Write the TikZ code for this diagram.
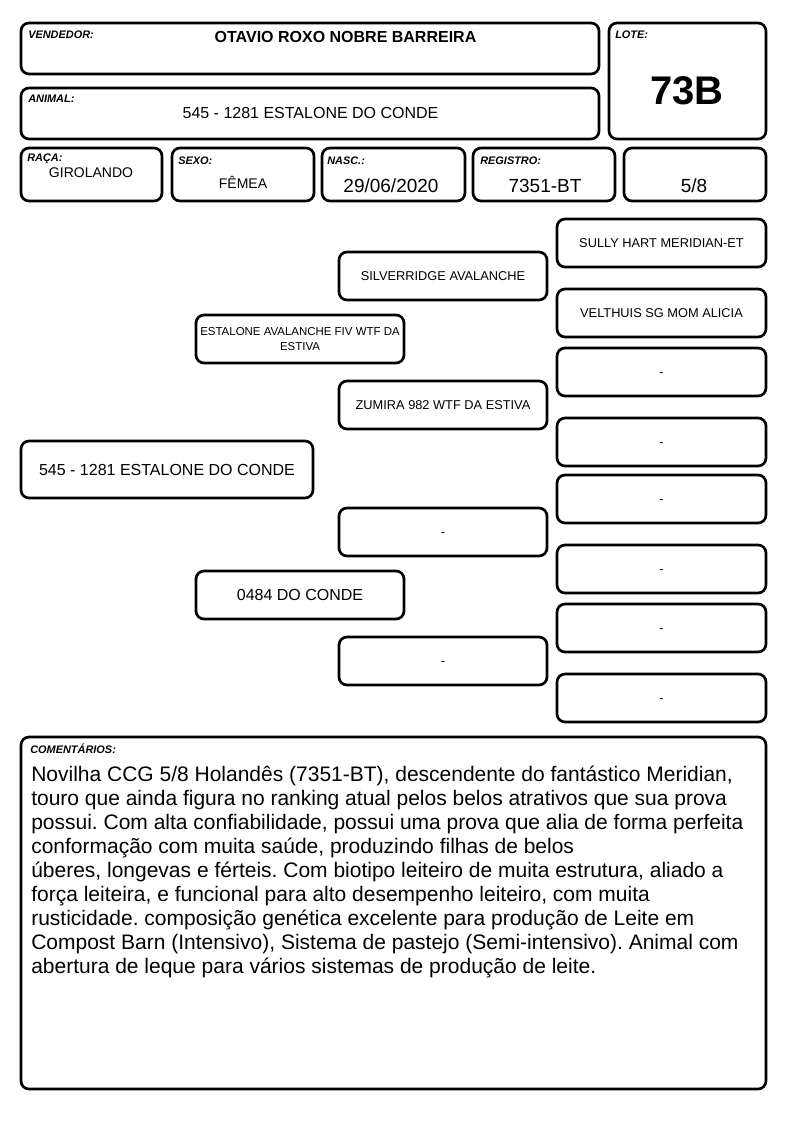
\documentclass[tikz,border=0pt]{standalone}
\usepackage{fontspec}
\setmainfont{Liberation Sans}
\frenchspacing
\tikzset{
  box/.style={draw, line width=2pt, rounded corners=6pt, inner sep=0pt},
  sz/.style args={#1x#2}{minimum width=#1*0.75pt, minimum height=#2*0.75pt},
  lbl/.style={anchor=base west, inner sep=0pt, font=\fontsize{8.2}{9}\selectfont\bfseries\itshape},
  val/.style={anchor=base, inner sep=0pt},
  ped/.style={box, sz=208x48, align=center, font=\fontsize{9.6}{11}\selectfont},
  vazio/.style={text height=7pt, text depth=0pt}
}

\begin{document}
\begin{tikzpicture}[x=0.75pt,y=-0.75pt]
\useasboundingbox (0,0) rectangle (794,1123);

% header
\node[box, sz=578x51] (vendedor) at (310,48.5) {};
\node[box, sz=157x116] (lote) at (687.5,81) {};
\node[box, sz=578x51] (animal) at (310,113.5) {};
\node[box, sz=141x53] (raca) at (91.5,174.5) {};
\node[box, sz=142x53] (sexo) at (243,174.5) {};
\node[box, sz=143x53] (nasc) at (393.5,174.5) {};
\node[box, sz=142x53] (registro) at (544,174.5) {};
\node[box, sz=142x53] (grau) at (695,174.5) {};

\node[lbl] (vendedorlbl) at (28,39) {VENDEDOR:};
\node[lbl] (lotelbl) at (615,39) {LOTE:};
\node[lbl] (animallbl) at (28,103) {ANIMAL:};
\node[lbl] (racalbl) at (27,162) {RAÇA:};
\node[lbl] (sexolbl) at (178,165) {SEXO:};
\node[lbl] (nasclbl) at (327,165) {NASC.:};
\node[lbl] (registrolbl) at (480,165) {REGISTRO:};

\node[val, font=\fontsize{12}{14}\selectfont\bfseries] (vendedorval) at (345.5,43) {OTAVIO ROXO NOBRE BARREIRA};
\node[val, font=\fontsize{30}{34}\selectfont\bfseries] (loteval) at (687,105) {73B};
\node[val, font=\fontsize{12}{14}\selectfont] (animalval) at (310.5,119) {545 - 1281 ESTALONE DO CONDE};
\node[val, font=\fontsize{10.5}{12}\selectfont] (racaval) at (91,178) {GIROLANDO};
\node[val, font=\fontsize{10.5}{12}\selectfont] (sexoval) at (243,189) {FÊMEA};
\node[val, font=\fontsize{14.25}{16}\selectfont] (nascval) at (391,193) {29/06/2020};
\node[val, font=\fontsize{14.25}{16}\selectfont] (registroval) at (545,193) {7351-BT};
\node[val, font=\fontsize{14.25}{16}\selectfont] (grauval) at (694,193) {5/8};

% pedigree
\node[box, sz=292x57, font=\fontsize{12}{14}\selectfont] (animalped) at (167,469.5) {545 - 1281 ESTALONE DO CONDE};

\node[ped, font=\fontsize{8.6}{11.25}\selectfont] (pai) at (300,339) {ESTALONE AVALANCHE FIV WTF DA\\ESTIVA};
\node[ped, font=\fontsize{12}{14}\selectfont] (mae) at (300,595) {0484 DO CONDE};

\node[ped] (avopp) at (443,276) {SILVERRIDGE AVALANCHE};
\node[ped] (avopm) at (443,405) {ZUMIRA 982 WTF DA ESTIVA};
\node[ped, vazio] (avomp) at (443,532) {-};
\node[ped, vazio] (avomm) at (443,661) {-};

\node[ped, sz=209x48] (bis1) at (661.5,243) {SULLY HART MERIDIAN-ET};
\node[ped, sz=209x48] (bis2) at (661.5,313) {VELTHUIS SG MOM ALICIA};
\node[ped, vazio, sz=209x48] (bis3) at (661.5,372) {-};
\node[ped, vazio, sz=209x48] (bis4) at (661.5,442) {-};
\node[ped, vazio, sz=209x48] (bis5) at (661.5,499) {-};
\node[ped, vazio, sz=209x48] (bis6) at (661.5,569) {-};
\node[ped, vazio, sz=209x48] (bis7) at (661.5,628) {-};
\node[ped, vazio, sz=209x48] (bis8) at (661.5,698) {-};

% comments
\node[box, sz=745x352] (comentarios) at (393.5,913) {};
\node[lbl] (comentarioslbl) at (30,753) {COMENTÁRIOS:};
\node[anchor=north west, inner sep=0pt, align=left, font=\fontsize{15.75}{18}\selectfont] (comentariostxt) at (31,766) {Novilha CCG 5/8 Holandês (7351-BT), descendente do fantástico Meridian,\\
touro que ainda figura no ranking atual pelos belos atrativos que sua prova\\
possui. Com alta confiabilidade, possui uma prova que alia de forma perfeita\\
conformação com muita saúde, produzindo filhas de belos\\
úberes, longevas e férteis. Com biotipo leiteiro de muita estrutura, aliado a\\
força leiteira, e funcional para alto desempenho leiteiro, com muita\\
rusticidade. composição genética excelente para produção de Leite em\\
Compost Barn (Intensivo), Sistema de pastejo (Semi-intensivo). Animal com\\
abertura de leque para vários sistemas de produção de leite.};
\end{tikzpicture}
\end{document}
